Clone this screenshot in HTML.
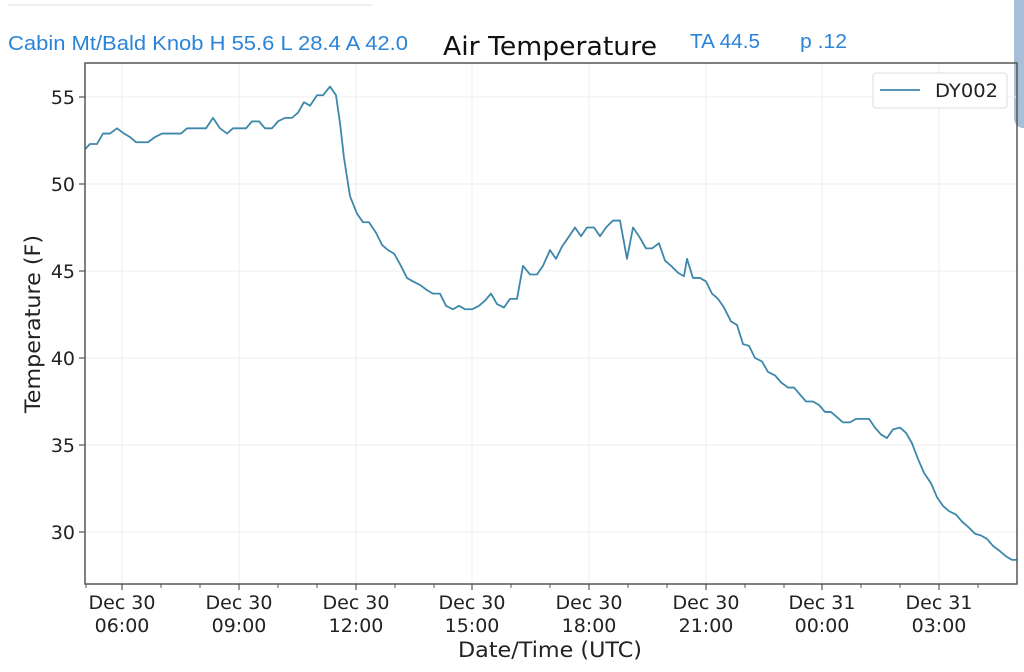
<!DOCTYPE html>
<html><head><meta charset="utf-8"><style>
html,body{margin:0;padding:0;background:#fff;width:1024px;height:672px;overflow:hidden}
svg text{font-family:"DejaVu Sans","Liberation Sans",sans-serif}
</style></head><body>
<svg width="1024" height="672" viewBox="0 0 1024 672" xmlns="http://www.w3.org/2000/svg">
<rect width="1024" height="672" fill="#fff"/>
<line x1="8" y1="5" x2="372" y2="5" stroke="#eeeeee" stroke-width="2"/>
<path d="M1014 0 H1024 V128 H1022 Q1014 126 1014 118 Z" fill="#a9bfd8"/>
<text x="8" y="50" font-size="20" fill="#2a84d8" style="font-family:'Liberation Sans',sans-serif" textLength="400" lengthAdjust="spacingAndGlyphs">Cabin Mt/Bald Knob H 55.6 L 28.4 A 42.0</text>
<text x="690" y="48" font-size="20" fill="#2a84d8" style="font-family:'Liberation Sans',sans-serif" textLength="70" lengthAdjust="spacingAndGlyphs">TA 44.5</text>
<text x="800" y="48" font-size="20" fill="#2a84d8" style="font-family:'Liberation Sans',sans-serif" textLength="47" lengthAdjust="spacingAndGlyphs">p .12</text>
<text x="550" y="55" font-size="26" fill="#111" text-anchor="middle" textLength="214" lengthAdjust="spacingAndGlyphs">Air Temperature</text>
<g stroke="#ececec" stroke-width="1">
<line x1="122" y1="63" x2="122" y2="584"/><line x1="239" y1="63" x2="239" y2="584"/>
<line x1="356" y1="63" x2="356" y2="584"/><line x1="472" y1="63" x2="472" y2="584"/>
<line x1="589" y1="63" x2="589" y2="584"/><line x1="706" y1="63" x2="706" y2="584"/>
<line x1="822" y1="63" x2="822" y2="584"/><line x1="939" y1="63" x2="939" y2="584"/>
<line x1="85" y1="97" x2="1017" y2="97"/><line x1="85" y1="184" x2="1017" y2="184"/>
<line x1="85" y1="271" x2="1017" y2="271"/><line x1="85" y1="358" x2="1017" y2="358"/>
<line x1="85" y1="445" x2="1017" y2="445"/><line x1="85" y1="532" x2="1017" y2="532"/>
</g>
<g transform="matrix(1 0 0 -17.4 0 1054)">
<polyline fill="none" stroke="#3d88aa" stroke-width="1.8" vector-effect="non-scaling-stroke" stroke-linejoin="round" points="85,52.0 90,52.3 97,52.3 103,52.9 110,52.9 117,53.2 124,52.9 130,52.7 136,52.4 148,52.4 155,52.7 162,52.9 181,52.9 187,53.2 206,53.2 213,53.8 220,53.2 227,52.9 233,53.2 246,53.2 252,53.6 259,53.6 265,53.2 272,53.2 278,53.6 285,53.8 292,53.8 298,54.1 304,54.7 310,54.5 317,55.1 323,55.1 330,55.6 336,55.1 340,53.5 344,51.5 350,49.3 357,48.3 363,47.8 369,47.8 376,47.2 382,46.5 388,46.2 394,46.0 400,45.4 407,44.6 413,44.4 420,44.2 427,43.9 433,43.7 440,43.7 446,43.0 453,42.8 459,43.0 465,42.8 472,42.8 479,43.0 485,43.3 491,43.7 497,43.1 504,42.9 510,43.4 517,43.4 523,45.3 530,44.8 537,44.8 543,45.3 550,46.2 556,45.7 562,46.4 568,46.9 575,47.5 581,47.0 587,47.5 594,47.5 600,47.0 606,47.5 613,47.9 620,47.9 627,45.7 633,47.5 639,47.0 646,46.3 652,46.3 659,46.6 665,45.6 671,45.3 678,44.9 684,44.7 687,45.7 693,44.6 700,44.6 706,44.4 712,43.7 718,43.4 724,42.9 731,42.1 737,41.9 743,40.8 749,40.7 755,40.0 762,39.8 768,39.2 775,39.0 781,38.6 788,38.3 794,38.3 800,37.9 806,37.5 813,37.5 819,37.3 825,36.9 831,36.9 837,36.6 843,36.3 850,36.3 856,36.5 869,36.5 875,36.0 881,35.6 887,35.4 893,35.9 900,36.0 906,35.7 912,35.1 918,34.2 924,33.4 931,32.8 937,32.0 943,31.5 949,31.2 956,31.0 962,30.6 968,30.3 975,29.9 981,29.8 987,29.6 993,29.2 1000,28.9 1006,28.6 1012,28.4 1017,28.4"/>
</g>
<rect x="85" y="63" width="932" height="521" fill="none" stroke="#555" stroke-width="1.5"/>
<g stroke="#555" stroke-width="1.2">
<line x1="79" y1="97" x2="85" y2="97"/><line x1="79" y1="184" x2="85" y2="184"/>
<line x1="79" y1="271" x2="85" y2="271"/><line x1="79" y1="358" x2="85" y2="358"/>
<line x1="79" y1="445" x2="85" y2="445"/><line x1="79" y1="532" x2="85" y2="532"/>
<line x1="122" y1="584" x2="122" y2="590"/><line x1="239" y1="584" x2="239" y2="590"/>
<line x1="356" y1="584" x2="356" y2="590"/><line x1="472" y1="584" x2="472" y2="590"/>
<line x1="589" y1="584" x2="589" y2="590"/><line x1="706" y1="584" x2="706" y2="590"/>
<line x1="822" y1="584" x2="822" y2="590"/><line x1="939" y1="584" x2="939" y2="590"/>
</g>
<g stroke="#555" stroke-width="1">
<line x1="86" y1="584" x2="86" y2="588"/><line x1="161" y1="584" x2="161" y2="588"/><line x1="200" y1="584" x2="200" y2="588"/>
<line x1="278" y1="584" x2="278" y2="588"/><line x1="317" y1="584" x2="317" y2="588"/>
<line x1="395" y1="584" x2="395" y2="588"/><line x1="434" y1="584" x2="434" y2="588"/>
<line x1="511" y1="584" x2="511" y2="588"/><line x1="550" y1="584" x2="550" y2="588"/>
<line x1="628" y1="584" x2="628" y2="588"/><line x1="667" y1="584" x2="667" y2="588"/>
<line x1="745" y1="584" x2="745" y2="588"/><line x1="784" y1="584" x2="784" y2="588"/>
<line x1="861" y1="584" x2="861" y2="588"/><line x1="900" y1="584" x2="900" y2="588"/>
<line x1="978" y1="584" x2="978" y2="588"/>
</g>
<g font-size="19" fill="#222" text-anchor="end">
<text x="75" y="104">55</text><text x="75" y="191">50</text><text x="75" y="278">45</text>
<text x="75" y="365">40</text><text x="75" y="452">35</text><text x="75" y="539">30</text>
</g>
<g font-size="19" fill="#222" text-anchor="middle">
<text x="122" y="609">Dec 30</text><text x="122" y="632">06:00</text>
<text x="239" y="609">Dec 30</text><text x="239" y="632">09:00</text>
<text x="356" y="609">Dec 30</text><text x="356" y="632">12:00</text>
<text x="472" y="609">Dec 30</text><text x="472" y="632">15:00</text>
<text x="589" y="609">Dec 30</text><text x="589" y="632">18:00</text>
<text x="706" y="609">Dec 30</text><text x="706" y="632">21:00</text>
<text x="822" y="609">Dec 31</text><text x="822" y="632">00:00</text>
<text x="939" y="609">Dec 31</text><text x="939" y="632">03:00</text>
</g>
<text x="550" y="657" font-size="21" fill="#222" text-anchor="middle" textLength="184" lengthAdjust="spacingAndGlyphs">Date/Time (UTC)</text>
<text transform="translate(40,324) rotate(-90)" font-size="21" fill="#222" text-anchor="middle" textLength="178" lengthAdjust="spacingAndGlyphs">Temperature (F)</text>
<rect x="873" y="73" width="134" height="35" rx="3" fill="#fff" stroke="#ddd" stroke-width="1"/>
<line x1="880" y1="90" x2="920" y2="90" stroke="#3d88aa" stroke-width="1.8"/>
<text x="935" y="97" font-size="19" fill="#222" textLength="63" lengthAdjust="spacingAndGlyphs">DY002</text>
</svg>
</body></html>
